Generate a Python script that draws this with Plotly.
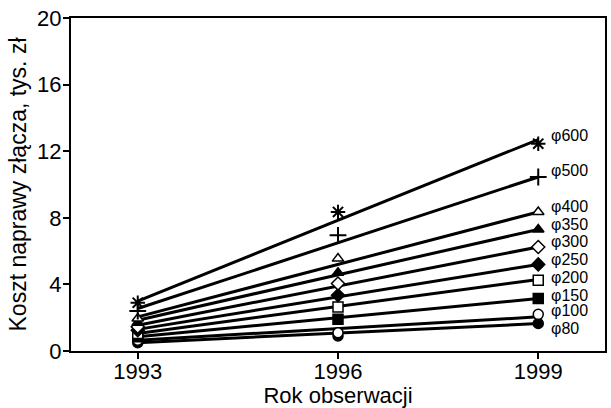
import plotly.graph_objects as go

years = [1993, 1996, 1999]
labels = ["φ80", "φ100", "φ150", "φ200", "φ250", "φ300", "φ350", "φ400", "φ500", "φ600"]

# observed points (markers) at 1993, 1996, 1999
obs_80 = [0.50, 0.90, 1.65]
obs_100 = [0.65, 1.10, 2.20]
obs_150 = [0.85, 1.90, 3.15]
obs_200 = [1.05, 2.65, 4.25]
obs_250 = [1.25, 3.35, 5.20]
obs_300 = [1.45, 4.05, 6.25]
obs_350 = [1.70, 4.70, 7.30]
obs_400 = [1.95, 5.55, 8.35]
obs_500 = [2.40, 6.95, 10.45]
obs_600 = [2.90, 8.35, 12.45]

# trend lines, values read at 1993 and 1999
trend_years = [1993, 1999]
trend_80 = [0.50, 1.65]
trend_100 = [0.65, 2.05]
trend_150 = [0.85, 3.15]
trend_200 = [1.05, 4.30]
trend_250 = [1.30, 5.20]
trend_300 = [1.55, 6.25]
trend_350 = [1.85, 7.30]
trend_400 = [2.05, 8.35]
trend_500 = [2.55, 10.45]
trend_600 = [3.00, 12.70]

x_ticks = [1993, 1996, 1999]
y_ticks = [0, 4, 8, 12, 16, 20]

observed = [obs_80, obs_100, obs_150, obs_200, obs_250, obs_300, obs_350, obs_400, obs_500, obs_600]
trends = [trend_80, trend_100, trend_150, trend_200, trend_250, trend_300, trend_350, trend_400, trend_500, trend_600]

# marker styles: (symbol, fill colour)
styles = [
    ("circle", "black"),
    ("circle", "white"),
    ("square", "black"),
    ("square", "white"),
    ("diamond", "black"),
    ("diamond", "white"),
    ("triangle-up", "black"),
    ("triangle-up", "white"),
    ("cross-thin", "black"),
    ("asterisk", "black"),
]
label_yshift = [-5, 4, 3, 3, 5, 5, 5, 5, 7, 8]

FONT = "Liberation Sans, Arial, sans-serif"

fig = go.Figure()
for name, tr in zip(labels, trends):
    fig.add_trace(go.Scatter(x=trend_years, y=tr, mode="lines",
                             line=dict(color="black", width=3),
                             showlegend=False, hoverinfo="skip", name=name))
for name, ob, (sym, fill) in zip(labels, observed, styles):
    thin = sym in ("cross-thin", "asterisk")
    fig.add_trace(go.Scatter(
        x=years, y=ob, mode="markers", name=name, showlegend=False,
        marker=dict(symbol=sym, size=12 if thin else 10, color=fill,
                    line=dict(color="black", width=2 if thin else 1.5))))

for name, ob, ys in zip(labels, observed, label_yshift):
    fig.add_annotation(x=years[-1], y=ob[-1], text=name, showarrow=False,
                       xanchor="left", yanchor="middle", xshift=11, yshift=ys,
                       font=dict(family=FONT, size=16, color="black"))

fig.update_layout(
    width=611, height=408,
    margin=dict(l=71, r=4, t=18, b=57),
    paper_bgcolor="white", plot_bgcolor="white",
    font=dict(family=FONT, color="black"),
)
fig.update_xaxes(range=[1992, 2000], tickvals=x_ticks, ticktext=[str(v) for v in x_ticks],
                 showgrid=False, zeroline=False, showline=True, linecolor="black",
                 linewidth=2, mirror=True, ticks="outside", ticklen=6, tickwidth=1.5,
                 tickcolor="black", tickfont=dict(size=22), ticklabelstandoff=-6,
                 title=dict(text="Rok obserwacji", font=dict(size=22), standoff=2))
fig.update_yaxes(range=[0, 20], tickvals=y_ticks, showgrid=False, zeroline=False,
                 showline=True, linecolor="black", linewidth=2, mirror=True,
                 ticks="outside", ticklen=6, tickwidth=1.5, tickcolor="black",
                 tickfont=dict(size=22), ticklabelstandoff=-3,
                 title=dict(text="Koszt naprawy złącza, tys. zł", font=dict(size=23), standoff=4))

fig.write_html("out.html")
